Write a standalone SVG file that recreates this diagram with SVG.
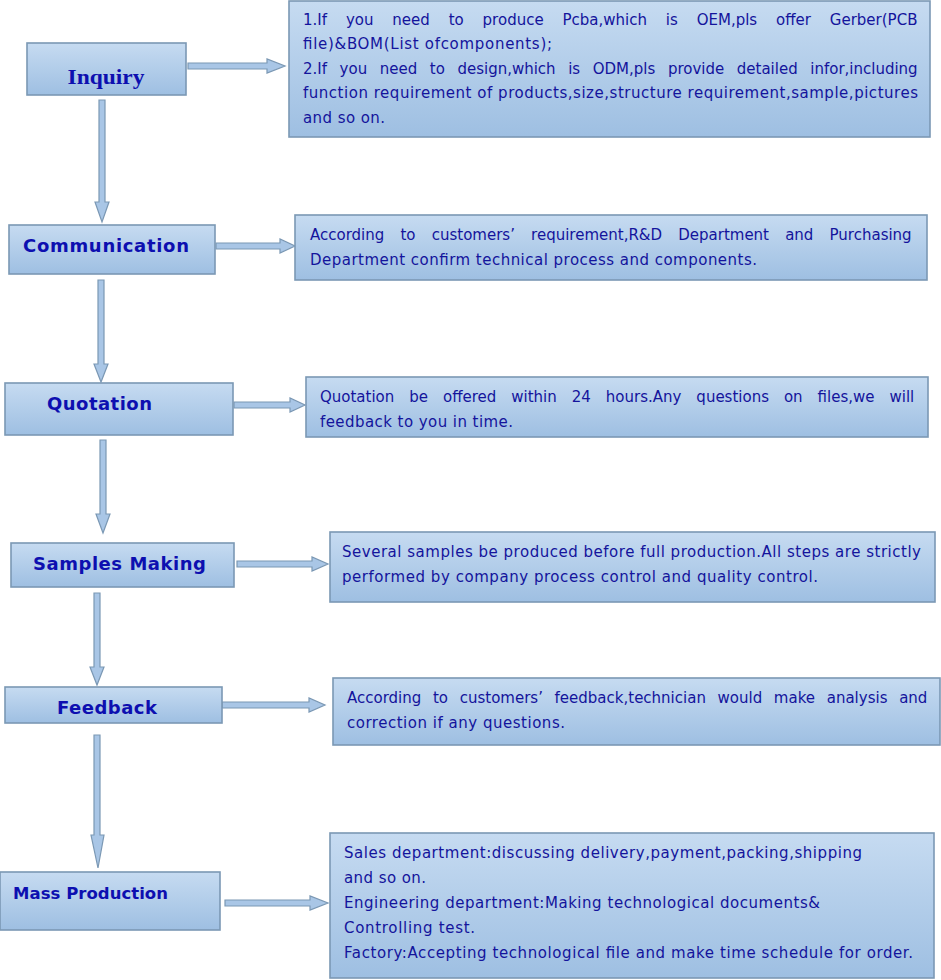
<svg xmlns="http://www.w3.org/2000/svg" width="941" height="980" viewBox="0 0 941 980">
<defs>
<linearGradient id="g" x1="0" y1="0" x2="0" y2="1">
<stop offset="0" stop-color="#c6dbf1"/>
<stop offset="1" stop-color="#9ebfe2"/>
</linearGradient>
<style>
.box{fill:url(#g);stroke:#7b98b4;stroke-width:1.6}
.arr{fill:#a9c6e6;stroke:#7b98b4;stroke-width:1.2}
.lbl{font-family:"DejaVu Sans",Verdana,sans-serif;font-weight:bold;font-size:18px;fill:#0d0fb0}
.txt{font-family:"DejaVu Sans",Verdana,sans-serif;font-size:15px;fill:#14149c}
</style>
</defs>
<rect width="941" height="980" fill="#ffffff"/>
<g id="connectors">
<polygon class="arr" points="188,63 267,63 267,59 285,66 267,73 267,69 188,69"/>
<polygon class="arr" points="99,100 105,100 105,202 109,202 102,222 95,202 99,202"/>
<polygon class="arr" points="216,243 280,243 280,239 295,246 280,253 280,249 216,249"/>
<polygon class="arr" points="98,280 104,280 104,364 108,364 101,382 94,364 98,364"/>
<polygon class="arr" points="234,402 290,402 290,398 305,405 290,412 290,408 234,408"/>
<polygon class="arr" points="100,440 106,440 106,514 110,514 103,533 96,514 100,514"/>
<polygon class="arr" points="237,561 312,561 312,557 328,564 312,571 312,567 237,567"/>
<polygon class="arr" points="94,593 100,593 100,667 104,667 97,685 90,667 94,667"/>
<polygon class="arr" points="222,702 309,702 309,698 325,705 309,712 309,708 222,708"/>
<polygon class="arr" points="94,735 100,735 100,835 104,835 98,868 91,835 94,835"/>
<polygon class="arr" points="225,900 310,900 310,896 328,903 310,910 310,906 225,906"/>
</g>
<g id="inquiry">
<rect class="box" x="27" y="43" width="159" height="52"/>
<text x="106" y="84" text-anchor="middle" font-family="Liberation Serif,serif" font-weight="bold" font-size="22" fill="#0d0fb0" textLength="77" lengthAdjust="spacingAndGlyphs">Inquiry</text>
</g>
<g id="inquiry-note">
<rect class="box" x="289" y="1" width="641" height="136"/>
<text class="txt" x="303" y="25" word-spacing="14.1">1.If you need to produce Pcba,which is OEM,pls offer Gerber(PCB</text>
<text class="txt" x="303" y="49" textLength="249" lengthAdjust="spacing">file)&amp;BOM(List ofcomponents);</text>
<text class="txt" x="303" y="74" word-spacing="7.8">2.If you need to design,which is ODM,pls provide detailed infor,including</text>
<text class="txt" x="303" y="98" textLength="615" lengthAdjust="spacing">function requirement of products,size,structure requirement,sample,pictures</text>
<text class="txt" x="303" y="123" textLength="82" lengthAdjust="spacing">and so on.</text>
</g>
<g id="communication">
<rect class="box" x="9" y="225" width="206" height="49"/>
<text class="lbl" x="23" y="252" textLength="166" lengthAdjust="spacing">Communication</text>
</g>
<g id="communication-note">
<rect class="box" x="295" y="215" width="632" height="65"/>
<text class="txt" x="310" y="240" word-spacing="11.4">According to customers’ requirement,R&amp;D Department and Purchasing</text>
<text class="txt" x="310" y="265" textLength="447" lengthAdjust="spacing">Department confirm technical process and components.</text>
</g>
<g id="quotation">
<rect class="box" x="5" y="383" width="228" height="52"/>
<text class="lbl" x="47" y="410" textLength="105" lengthAdjust="spacing">Quotation</text>
</g>
<g id="quotation-note">
<rect class="box" x="306" y="377" width="622" height="60"/>
<text class="txt" x="320" y="402" word-spacing="10.2">Quotation be offered within 24 hours.Any questions on files,we will</text>
<text class="txt" x="320" y="427" textLength="193" lengthAdjust="spacing">feedback to you in time.</text>
</g>
<g id="samples-making">
<rect class="box" x="11" y="543" width="223" height="44"/>
<text class="lbl" x="33" y="570" textLength="173" lengthAdjust="spacing">Samples Making</text>
</g>
<g id="samples-note">
<rect class="box" x="330" y="532" width="605" height="70"/>
<text class="txt" x="342" y="557" textLength="579" lengthAdjust="spacing">Several samples be produced before full production.All steps are strictly</text>
<text class="txt" x="342" y="582" textLength="476" lengthAdjust="spacing">performed by company process control and quality control.</text>
</g>
<g id="feedback">
<rect class="box" x="5" y="687" width="217" height="36"/>
<text class="lbl" x="57" y="714" textLength="100" lengthAdjust="spacing">Feedback</text>
</g>
<g id="feedback-note">
<rect class="box" x="333" y="678" width="607" height="67"/>
<text class="txt" x="347" y="703" word-spacing="6.9">According to customers’ feedback,technician would make analysis and</text>
<text class="txt" x="347" y="728" textLength="218" lengthAdjust="spacing">correction if any questions.</text>
</g>
<g id="mass-production">
<rect class="box" x="0" y="872" width="220" height="58"/>
<text class="lbl" x="13" y="899" style="font-size:16.5px" textLength="155" lengthAdjust="spacing">Mass Production</text>
</g>
<g id="mass-note">
<rect class="box" x="330" y="833" width="604" height="145"/>
<text class="txt" x="344" y="858" textLength="518" lengthAdjust="spacing">Sales department:discussing delivery,payment,packing,shipping</text>
<text class="txt" x="344" y="883" textLength="82" lengthAdjust="spacing">and so on.</text>
<text class="txt" x="344" y="908" textLength="476" lengthAdjust="spacing">Engineering department:Making technological documents&amp;</text>
<text class="txt" x="344" y="933" textLength="131" lengthAdjust="spacing">Controlling test.</text>
<text class="txt" x="344" y="958" textLength="569" lengthAdjust="spacing">Factory:Accepting technological file and make time schedule for order.</text>
</g>
</svg>
